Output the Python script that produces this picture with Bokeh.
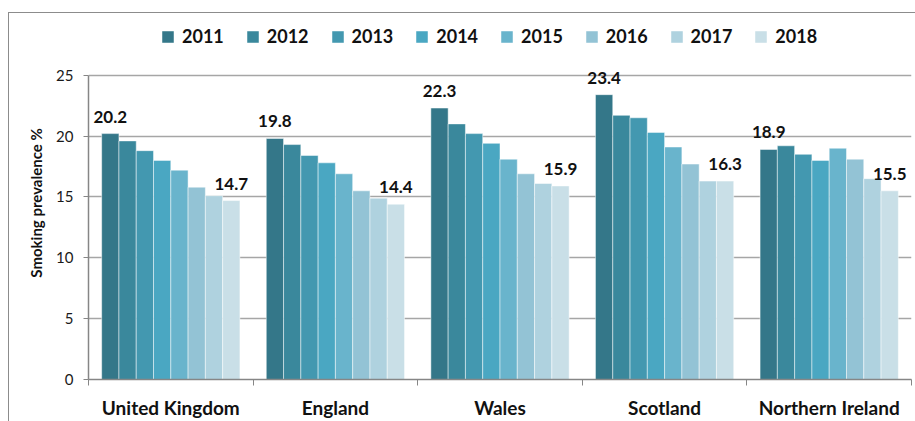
from bokeh.plotting import figure
from bokeh.models import (Range1d, FixedTicker, ColumnDataSource, LabelSet, Legend,
                          LegendItem)
from bokeh.core.properties import value
from bokeh.embed import file_html
from bokeh.resources import INLINE

countries = ["United Kingdom", "England", "Wales", "Scotland", "Northern Ireland"]
years = ["2011", "2012", "2013", "2014", "2015", "2016", "2017", "2018"]
v2011 = [20.2, 19.8, 22.3, 23.4, 18.9]
v2012 = [19.6, 19.3, 21.0, 21.7, 19.2]
v2013 = [18.8, 18.4, 20.2, 21.5, 18.5]
v2014 = [18.0, 17.8, 19.4, 20.3, 18.0]
v2015 = [17.2, 16.9, 18.1, 19.1, 19.0]
v2016 = [15.8, 15.5, 16.9, 17.7, 18.1]
v2017 = [15.1, 14.9, 16.1, 16.3, 16.5]
v2018 = [14.7, 14.4, 15.9, 16.3, 15.5]
series = [v2011, v2012, v2013, v2014, v2015, v2016, v2017, v2018]
colors = ["#347789", "#3A889C", "#4398B0", "#4AA7C2", "#69B4CC", "#93C3D5", "#AFD2DF", "#C9DFE7"]
y_ticks = [0, 5, 10, 15, 20, 25]

FONT = "Lato"
BAR_W = 0.105

# the plotting frame reaches up to the legend row; the value axis itself stops at 25
p = figure(width=915, height=421, output_backend="svg", toolbar_location=None,
           x_range=Range1d(0, 5), y_range=Range1d(0, 29.0),
           min_border_left=88, min_border_right=4, min_border_top=26, min_border_bottom=41)
p.outline_line_color = None
p.background_fill_color = "white"
p.border_fill_color = None
# outer chart box (left and top edges), painted behind the transparent canvas border
p.styles = {
    "background-color": "white",
    "background-image": "linear-gradient(#8c8c8c, #8c8c8c), linear-gradient(#8c8c8c, #8c8c8c)",
    "background-size": "1px 420px, 910px 1px",
    "background-position": "8px 12px, 8px 12px",
    "background-repeat": "no-repeat",
}

renderers = []
for j, (yr, vals, col) in enumerate(zip(years, series, colors)):
    xs = [i + 0.5 + (j - 3.5) * BAR_W for i in range(len(countries))]
    src = ColumnDataSource(dict(x=xs, top=vals, country=countries))
    r = p.vbar(x="x", top="top", bottom=0, width=BAR_W, source=src,
               fill_color=col, line_color="white", line_alpha=0.6, line_width=0.8)
    renderers.append(r)

# data labels (first and last year)
lab_x, lab_y, lab_t = [], [], []
for j, vals in [(0, v2011), (7, v2018)]:
    for i, v in enumerate(vals):
        lab_x.append(i + 0.5 + (j - 3.5) * BAR_W)
        lab_y.append(v)
        lab_t.append(f"{v:.1f}")
lsrc = ColumnDataSource(dict(x=lab_x, y=lab_y, t=lab_t))
p.add_layout(LabelSet(x="x", y="y", text="t", source=lsrc, y_offset=11,
                      text_align="center", text_baseline="alphabetic",
                      text_font=value(FONT), text_font_style="bold",
                      text_font_size="17px", text_color="#111111"))

# axes
AX = "#868686"
p.yaxis.ticker = FixedTicker(ticks=y_ticks)
p.yaxis.bounds = (0, 25)
p.yaxis.axis_line_color = AX
p.yaxis.axis_line_width = 1.5
p.yaxis.major_tick_line_color = AX
p.yaxis.major_tick_out = 5
p.yaxis.major_tick_in = 0
p.yaxis.minor_tick_line_color = None
p.yaxis.major_label_standoff = 10
p.yaxis.major_label_text_font = FONT
p.yaxis.major_label_text_font_size = "15px"
p.yaxis.major_label_text_color = "#1a1a1a"
p.yaxis.axis_label = "Smoking prevalence %"
p.yaxis.axis_label_standoff = 8
p.yaxis.axis_label_text_font = FONT
p.yaxis.axis_label_text_font_style = "bold"
p.yaxis.axis_label_text_font_size = "15px"
p.yaxis.axis_label_text_color = "#111111"

centers = [i + 0.5 for i in range(len(countries))]
p.xaxis.ticker = FixedTicker(ticks=centers, minor_ticks=list(range(len(countries) + 1)))
p.xaxis.major_label_overrides = {c: n for c, n in zip(centers, countries)}
p.xaxis.axis_line_color = AX
p.xaxis.axis_line_width = 1.5
p.xaxis.major_tick_line_color = None
p.xaxis.major_tick_out = 0
p.xaxis.minor_tick_line_color = AX
p.xaxis.minor_tick_out = 6
p.xaxis.minor_tick_in = 0
p.xaxis.major_label_standoff = 10
p.xaxis.major_label_text_font = FONT
p.xaxis.major_label_text_font_style = "bold"
p.xaxis.major_label_text_font_size = "19px"
p.xaxis.major_label_text_color = "#111111"

p.xgrid.visible = False
p.ygrid.ticker = FixedTicker(ticks=y_ticks)
p.ygrid.grid_line_color = "#A6A6A6"
p.ygrid.grid_line_width = 1.5

# legend row at the top of the frame
legend = Legend(items=[LegendItem(label=yr, renderers=[r]) for yr, r in zip(years, renderers)],
                orientation="horizontal", location=(72, 332),
                glyph_width=15, glyph_height=15, label_standoff=7, spacing=21,
                label_text_font=FONT, label_text_font_style="bold", label_text_font_size="18px",
                label_text_color="#111111", label_height=20, padding=0, margin=0,
                background_fill_alpha=0, border_line_color=None)
p.add_layout(legend, "center")

open("out.html", "w").write(file_html(p, INLINE))
